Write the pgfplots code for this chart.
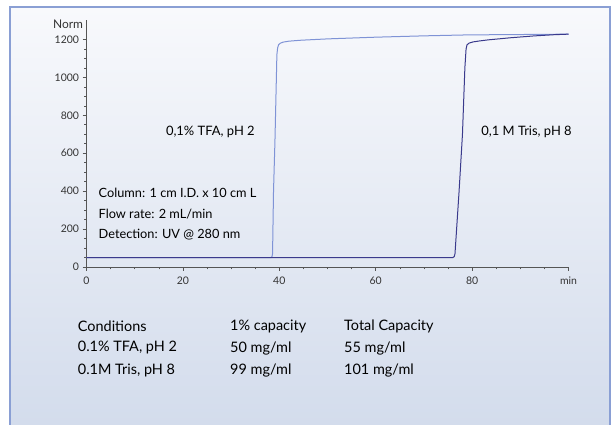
\documentclass[border=0pt]{standalone}
\usepackage{pgfplots}
\pgfplotsset{compat=1.18}
\usepackage{fontspec}
\setmainfont{Lato}
\definecolor{framecol}{HTML}{8A9FD4}
\definecolor{bgtop}{HTML}{F8F9FC}
\definecolor{bgbot}{HTML}{D3DCEC}
\definecolor{axiscol}{HTML}{555555}
\definecolor{labcol}{HTML}{333333}
\definecolor{tfacol}{HTML}{7F93D6}
\definecolor{triscol}{HTML}{3A3A8C}
\begin{document}
\begin{tikzpicture}
\useasboundingbox (0bp,0bp) rectangle (613bp,425bp);
\fill[white] (0bp,0bp) rectangle (613bp,425bp);
\shade[top color=bgtop, bottom color=bgbot] (10bp,0bp) rectangle (610bp,418bp);
\draw[framecol, line width=2bp] (10bp,-3bp) -- (10bp,418bp) -- (610bp,418bp) -- (610bp,-3bp);
\begin{axis}[
  at={(86.5bp,158bp)}, anchor=south west, scale only axis,
  width=482bp, height=246.5bp,
  xmin=0, xmax=100, ymin=0, ymax=1300,
  axis x line=bottom, axis y line=left,
  axis line style={-, draw=axiscol, line width=0.6bp},
  xtick={0,20,40,60,80,100}, xticklabels={0,20,40,60,80,min},
  ytick={0,200,...,1200},
  minor x tick num=3, minor y tick num=3,
  tick align=outside,
  major tick length=4bp, minor tick length=2.5bp,
  tick style={draw=axiscol, line width=0.6bp},
  ticklabel style={font=\fontsize{10.5}{12}\selectfont, text=labcol},
  xticklabel style={yshift=-2bp},
  /pgf/number format/1000 sep={},
  /pgf/number format/assume math mode=true,
  clip=false,
]
\addplot[tfacol, line width=1bp] coordinates {
 (0,50) (38.3,50) (38.5,56) (38.6,70) (38.8,400) (39.1,667) (39.5,1120) (39.65,1155) (39.85,1172) (40.2,1180) (40.8,1186) (42,1191) (44.5,1196) (50,1203) (60,1212) (70,1219) (79,1224) (90,1226) (100,1228)
};
\addplot[triscol, line width=1bp] coordinates {
 (0,50) (76.0,50) (76.3,55) (76.45,70) (77.3,400) (78.0,700) (78.5,1050) (78.75,1150) (78.95,1172) (79.4,1181) (80.2,1187) (81.5,1192) (83.4,1198) (88,1209) (93,1219) (97,1225) (100,1228)
};
\node[anchor=east, font=\fontsize{12}{14}\selectfont, text=labcol] at (axis cs:0,1280) {Norm\hspace{2bp}};
\node[font=\fontsize{13}{15}\selectfont] at (axis cs:25.7,714) {0,1\% TFA, pH 2};
\node[anchor=west, font=\fontsize{13}{15}\selectfont] at (axis cs:81.2,714) {0,1 M Tris, pH 8};
\node[anchor=west, font=\fontsize{12.8}{14}\selectfont] at (axis cs:1.8,391) {Column: 1 cm I.D. x 10 cm L};
\node[anchor=west, font=\fontsize{12.8}{14}\selectfont] at (axis cs:1.8,281) {Flow rate: 2 mL/min};
\node[anchor=west, font=\fontsize{12.8}{14}\selectfont] at (axis cs:1.8,172) {Detection: UV @ 280 nm};
\end{axis}
\begin{scope}[every node/.style={anchor=west, inner sep=0pt, font=\fontsize{14.5}{17}\selectfont}]
\node at (77.7bp,98.3bp) {Conditions};
\node at (230bp,98.3bp) {1\% capacity};
\node at (344bp,98.3bp) {Total Capacity};
\node at (77.7bp,77bp) {0.1\% TFA, pH 2};
\node at (230bp,77bp) {50 mg/ml};
\node at (344bp,77bp) {55 mg/ml};
\node at (77.7bp,55bp) {0.1M Tris, pH 8};
\node at (230bp,55bp) {99 mg/ml};
\node at (344bp,55bp) {101 mg/ml};
\end{scope}
\end{tikzpicture}
\end{document}
